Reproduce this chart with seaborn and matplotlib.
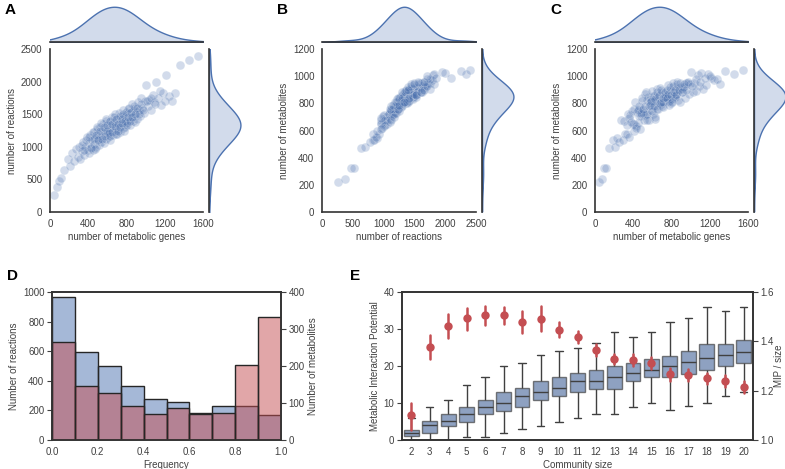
import numpy as np
import pandas as pd
import matplotlib
matplotlib.use("Agg")
import matplotlib.pyplot as plt
import seaborn as sns

genes = [45, 70, 95, 120, 150, 185, 210, 230, 250, 270, 290, 305, 315, 330, 345, 355, 370, 385, 395,
         405, 412, 420, 430, 440, 448, 455, 465, 473, 480, 488, 497,
         503, 510, 518, 525, 532, 540, 547, 555, 562, 570, 577, 585, 590, 597,
         603, 609, 615, 622, 628, 635, 641, 648, 655, 661, 668, 675, 682, 689, 696,
         703, 710, 717, 724, 731, 738, 745, 752, 759, 766, 773, 780, 788, 795,
         803, 810, 818, 825, 833, 840, 848, 855, 863, 870, 878, 886, 894,
         905, 915, 925, 935, 945, 955, 965, 978, 990,
         1005, 1020, 1040, 1055, 1075, 1090, 1110, 1130, 1160, 1185,
         1215, 1240, 1275, 1310, 1360, 1450, 1550,
         330, 360, 380, 410, 425, 445, 460, 470, 485, 495,
         505, 520, 535, 548, 560, 572, 582, 592, 600, 612,
         625, 632, 645, 652, 665, 678, 686, 694, 706, 715,
         727, 735, 748, 755, 768, 776, 785, 798, 806, 815,
         828, 838, 850, 860, 875, 890, 910, 930, 950, 970,
         1010, 1060, 1100, 1150, 1200]
reactions = [260, 380, 470, 520, 640, 820, 700, 900, 780, 960, 850, 1000, 820, 930, 1080, 870, 1000, 1150, 950,
             1060, 900, 1180, 1000, 1100, 950, 1230, 1050, 1140, 990, 1280, 1120,
             1200, 1020, 1310, 1140, 1080, 1250, 1170, 1350, 1060, 1220, 1290, 1120, 1400, 1200,
             1280, 1150, 1380, 1230, 1100, 1330, 1260, 1450, 1180, 1310, 1380, 1240, 1500, 1300, 1190,
             1420, 1280, 1350, 1520, 1230, 1400, 1330, 1470, 1290, 1560, 1380, 1300, 1450, 1360,
             1500, 1380, 1580, 1420, 1330, 1520, 1460, 1650, 1400, 1550, 1480, 1380, 1600,
             1530, 1420, 1680, 1560, 1480, 1750, 1600, 1520, 1700,
             1950, 1620, 1720, 1560, 1800, 1680, 2000, 1750, 1640, 1820,
             2100, 1780, 1700, 1820, 2250, 2330, 2400,
             1020, 950, 1100, 1150, 980, 1220, 1120, 960, 1180, 1300,
             1100, 1250, 1360, 1120, 1300, 1160, 1420, 1250, 1340, 1210,
             1400, 1170, 1350, 1230, 1460, 1320, 1200, 1420, 1350, 1250,
             1480, 1300, 1420, 1360, 1500, 1250, 1400, 1530, 1330, 1450,
             1600, 1400, 1530, 1450, 1620, 1500, 1600, 1500, 1650, 1560,
             1700, 1750, 1650, 1850, 1700]
metabolites = [220, 245, 327, 327, 470, 531, 480, 545, 515, 674, 532, 671, 571, 574, 721, 555, 711, 741, 648,
               650, 595, 808, 631, 733, 658, 757, 704, 726, 704, 815, 754,
               730, 674, 866, 716, 721, 828, 723, 850, 680, 831, 809, 754, 807, 780,
               855, 721, 855, 817, 683, 843, 784, 905, 758, 846, 800, 793, 912, 792, 784,
               884, 775, 850, 870, 837, 847, 853, 832, 819, 932, 820, 832, 895, 803,
               892, 830, 947, 854, 853, 850, 868, 954, 827, 910, 906, 810, 922,
               883, 904, 921, 922, 836, 948, 952, 870, 946,
               1030, 887, 951, 892, 1010, 931, 1025, 908, 932, 1015,
               985, 975, 976, 945, 1037, 1014, 1049,
               640, 690, 660, 760, 620, 750, 780, 610, 730, 840,
               760, 780, 880, 680, 780, 790, 820, 740, 890, 780,
               830, 700, 880, 760, 860, 800, 810, 900, 810, 840,
               850, 880, 840, 900, 870, 790, 920, 860, 810, 930,
               880, 900, 860, 940, 900, 950, 880, 940, 900, 960,
               930, 980, 960, 990, 1000]

# panel D: histogram counts per frequency bin
freq_edges = [0.0, 0.1, 0.2, 0.3, 0.4, 0.5, 0.6, 0.7, 0.8, 0.9, 1.0]
reaction_counts = [965, 595, 500, 368, 275, 258, 183, 228, 228, 168]
metabolite_counts = [265, 145, 127, 92, 71, 87, 70, 72, 203, 332]

# panel E: box stats of MIP per community size, and MIP/size with error bars
sizes = list(range(2, 21))
mip_lo = [0, 0, 0, 0.9, 0.9, 2.0, 2.9, 3.9, 4.9, 6.0, 7.0, 7.0, 9.0, 10.0, 8.0, 9.1, 10.0, 12.0, 12.9]
mip_q1 = [1.1, 1.8, 3.8, 4.9, 6.9, 7.8, 8.9, 10.9, 11.9, 12.9, 13.9, 13.9, 15.9, 17.1, 16.9, 17.8, 19.0, 20.0, 20.9]
mip_med = [2.0, 4.0, 5.1, 7.1, 9.0, 10.0, 11.9, 13.0, 14.0, 16.0, 16.0, 17.0, 18.0, 18.9, 20.0, 21.1, 22.1, 22.9, 23.9]
mip_q3 = [2.8, 5.1, 6.9, 8.9, 10.9, 13.0, 14.0, 15.9, 17.0, 18.0, 18.9, 19.9, 20.9, 22.0, 22.8, 24.0, 26.0, 26.0, 26.9]
mip_hi = [6.0, 8.9, 10.9, 15.0, 17.1, 20.0, 20.9, 22.9, 24.0, 25.0, 26.1, 29.2, 27.9, 29.2, 32.0, 32.9, 36.0, 34.9, 36.0]
ratio_mid = [1.100, 1.376, 1.463, 1.493, 1.508, 1.508, 1.479, 1.489, 1.447, 1.419,
             1.365, 1.328, 1.325, 1.313, 1.267, 1.264, 1.251, 1.240, 1.213]
ratio_lo = [1.040, 1.330, 1.413, 1.447, 1.467, 1.470, 1.433, 1.440, 1.416, 1.393,
            1.340, 1.307, 1.300, 1.287, 1.240, 1.240, 1.228, 1.216, 1.190]
ratio_hi = [1.150, 1.425, 1.510, 1.537, 1.544, 1.540, 1.525, 1.543, 1.477, 1.443,
            1.390, 1.350, 1.347, 1.336, 1.291, 1.287, 1.273, 1.264, 1.240]

BLUE = "#4C72B0"
RED = "#C44E52"
W, H = 785, 469

sns.set_style("white")
plt.rcParams["font.family"] = ["Liberation Sans", "DejaVu Sans"]
plt.rcParams.update({
    "font.size": 7, "axes.labelsize": 7, "xtick.labelsize": 7, "ytick.labelsize": 7,
    "axes.edgecolor": ".2", "axes.linewidth": 1.2, "text.color": ".25",
    "axes.labelcolor": ".25", "xtick.color": ".25", "ytick.color": ".25",
    "xtick.major.pad": 1.5, "ytick.major.pad": 2, "axes.labelpad": 2.5,
})

fig = plt.figure(figsize=(W / 100, H / 100), dpi=100)


def px(x0, y0, x1, y1):
    return [x0 / W, 1 - y1 / H, (x1 - x0) / W, (y1 - y0) / H]


def joint_panel(x0, x1, xdata, ydata, xlim, ylim, xticks, yticks, xlabel, ylabel, letter):
    ax = fig.add_axes(px(x0, 49, x1, 212))
    ax_top = fig.add_axes(px(x0, 5, x1, 42))
    ax_right = fig.add_axes(px(x1 + 6, 49, x1 + 39, 212))

    sns.scatterplot(x=xdata, y=ydata, ax=ax, s=40, color=BLUE, alpha=0.25,
                    edgecolor="white", linewidth=0.5)
    ax.set_xlim(*xlim)
    ax.set_ylim(*ylim)
    ax.set_xticks(xticks)
    ax.set_yticks(yticks)
    ax.set_xlabel(xlabel)
    ax.set_ylabel(ylabel)
    sns.despine(ax=ax)

    sns.kdeplot(x=xdata, ax=ax_top, fill=True, color=BLUE, alpha=0.25, linewidth=1, bw_adjust=1.4)
    ax_top.set_xlim(*xlim)
    ax_top.set_ylim(bottom=0)
    sns.kdeplot(y=ydata, ax=ax_right, fill=True, color=BLUE, alpha=0.25, linewidth=1, bw_adjust=1.4)
    ax_right.set_ylim(*ylim)
    ax_right.set_xlim(left=0)
    for m in (ax_top, ax_right):
        m.set_xticks([])
        m.set_yticks([])
        m.set_xlabel("")
        m.set_ylabel("")
    sns.despine(ax=ax_top, left=True)
    sns.despine(ax=ax_right, bottom=True)

    fig.text(x0 / W - 45 / W, 1 - 14 / H, letter, fontsize=11, fontweight="bold", color="black")


joint_panel(50, 203, genes, reactions, (0, 1600), (0, 2500), [0, 400, 800, 1200, 1600],
            [0, 500, 1000, 1500, 2000, 2500], "number of metabolic genes", "number of reactions", "A")
joint_panel(322, 476, reactions, metabolites, (0, 2500), (0, 1200), [0, 500, 1000, 1500, 2000, 2500],
            [0, 200, 400, 600, 800, 1000, 1200], "number of reactions", "number of metabolites", "B")
joint_panel(595, 748, genes, metabolites, (0, 1600), (0, 1200), [0, 400, 800, 1200, 1600],
            [0, 200, 400, 600, 800, 1000, 1200], "number of metabolic genes", "number of metabolites", "C")

# ---- panel D
centers = [(a + b) / 2 for a, b in zip(freq_edges[:-1], freq_edges[1:])]
axd = fig.add_axes(px(52, 292, 281, 440))
sns.histplot(x=centers, weights=reaction_counts, bins=freq_edges, ax=axd, color=BLUE,
             alpha=0.5, edgecolor="0.15", linewidth=1)
axd.set_xlim(0, 1)
axd.set_ylim(0, 1000)
axd.set_xticks([0, 0.2, 0.4, 0.6, 0.8, 1.0])
axd.set_xticklabels(["0.0", "0.2", "0.4", "0.6", "0.8", "1.0"])
axd.set_xlabel("Frequency")
axd.set_ylabel("Number of reactions")
axd2 = axd.twinx()
sns.histplot(x=centers, weights=metabolite_counts, bins=freq_edges, ax=axd2, color=RED,
             alpha=0.5, edgecolor="0.15", linewidth=1)
axd2.set_ylim(0, 400)
axd2.set_yticks([0, 100, 200, 300, 400])
axd2.set_ylabel("Number of metabolites")
fig.text(7 / W, 1 - 280 / H, "D", fontsize=11, fontweight="bold", color="black")

# ---- panel E
box_df = pd.DataFrame({
    "size": np.repeat(sizes, 5),
    "mip": np.column_stack([mip_lo, mip_q1, mip_med, mip_q3, mip_hi]).ravel(),
})
ratio_df = pd.DataFrame({
    "size": np.repeat(sizes, 3),
    "ratio": np.column_stack([ratio_lo, ratio_mid, ratio_hi]).ravel(),
})
axe = fig.add_axes(px(402, 292, 753, 440))
sns.boxplot(data=box_df, x="size", y="mip", ax=axe, whis=(0, 100), color=BLUE,
            saturation=0.75, width=0.8, linecolor="0.25", linewidth=1, fliersize=0)
for patch in axe.patches:
    patch.set_alpha(0.68)
axe.set_ylim(0, 40)
axe.set_yticks([0, 10, 20, 30, 40])
axe.set_xlabel("Community size")
axe.set_ylabel("Metabolic Interaction Potential")
axe2 = axe.twinx()
sns.pointplot(data=ratio_df, x="size", y="ratio", ax=axe2, estimator="median",
              errorbar=("pi", 100), linestyle="none", color=RED, markersize=4,
              err_kws={"linewidth": 1.8})
axe2.set_ylim(1.0, 1.6)
axe2.set_yticks([1.0, 1.2, 1.4, 1.6])
axe2.set_ylabel("MIP / size", labelpad=0)
axe.set_xlim(-0.5, len(sizes) - 0.5)
axe2.set_xlim(-0.5, len(sizes) - 0.5)
fig.text(350 / W, 1 - 280 / H, "E", fontsize=11, fontweight="bold", color="black")

fig.savefig("out.png", dpi=100)
